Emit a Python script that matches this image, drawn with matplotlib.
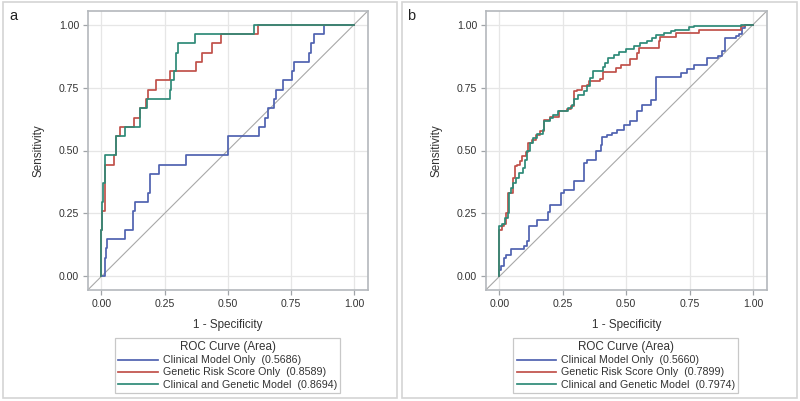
import matplotlib
matplotlib.use("Agg")
import matplotlib.pyplot as plt
from matplotlib.patches import Rectangle

plt.rcParams['font.family'] = ['Liberation Sans', 'DejaVu Sans']

# Panel a: ROC step points (1 - specificity, sensitivity)
a_clin_fpr = [0, 0.013, 0.017, 0.022, 0.095, 0.125, 0.132, 0.184, 0.193, 0.228, 0.333, 0.5, 0.625,
              0.648, 0.658, 0.685, 0.692, 0.718, 0.753, 0.764, 0.82, 0.83, 0.84, 0.88, 1.0]
a_clin_tpr = [0, 0.074, 0.111, 0.148, 0.185, 0.259, 0.296, 0.333, 0.407, 0.444, 0.481, 0.556, 0.593,
              0.630, 0.667, 0.704, 0.741, 0.778, 0.815, 0.852, 0.889, 0.926, 0.963, 1.0, 1.0]
a_grs_fpr = [0, 0, 0.003, 0.013, 0.049, 0.057, 0.072, 0.128, 0.151, 0.178, 0.184, 0.217, 0.27,
             0.375, 0.4, 0.438, 0.474, 0.621, 1.0]
a_grs_tpr = [0, 0.185, 0.259, 0.444, 0.481, 0.556, 0.593, 0.630, 0.667, 0.704, 0.741, 0.778, 0.815,
             0.852, 0.889, 0.926, 0.963, 1.0, 1.0]
a_comb_fpr = [0, 0, 0.003, 0.007, 0.013, 0.057, 0.059, 0.092, 0.151, 0.154, 0.180, 0.270, 0.276,
              0.286, 0.296, 0.303, 0.372, 0.603, 1.0]
a_comb_tpr = [0, 0.185, 0.296, 0.370, 0.481, 0.519, 0.556, 0.593, 0.630, 0.667, 0.704, 0.741, 0.778,
              0.815, 0.889, 0.926, 0.963, 1.0, 1.0]
a_auc = ["0.5686", "0.8589", "0.8694"]

# Panel b
b_clin_fpr = [0, 0, 0.005, 0.018, 0.026, 0.045, 0.095, 0.108, 0.118, 0.147,
              0.193, 0.200, 0.242, 0.255, 0.295, 0.332, 0.335, 0.345, 0.38, 0.40,
              0.405, 0.424, 0.443, 0.463, 0.49, 0.516, 0.543, 0.562, 0.596, 0.619,
              0.714, 0.74, 0.767, 0.82, 0.86, 0.879, 0.888, 0.932, 0.945, 0.958,
              0.969, 1.0]
b_clin_tpr = [0, 0.026, 0.04, 0.073, 0.086, 0.11, 0.12, 0.142, 0.2, 0.225,
              0.254, 0.285, 0.33, 0.342, 0.377, 0.415, 0.45, 0.464, 0.497, 0.52,
              0.552, 0.56, 0.57, 0.583, 0.6, 0.618, 0.658, 0.682, 0.702, 0.793,
              0.808, 0.825, 0.841, 0.868, 0.877, 0.897, 0.947, 0.954, 0.963, 0.987,
              0.997, 1.0]
b_grs_fpr = [0, 0, 0.009, 0.018, 0.026, 0.035, 0.053, 0.062, 0.071, 0.082,
             0.088, 0.105, 0.114, 0.128, 0.145, 0.16, 0.174, 0.2, 0.233, 0.266,
             0.282, 0.295, 0.305, 0.325, 0.345, 0.355, 0.397, 0.41, 0.46, 0.48,
             0.516, 0.543, 0.55, 0.629, 0.635, 0.695, 0.787, 0.952, 0.97, 1.0]
b_grs_tpr = [0, 0.185, 0.2, 0.21, 0.25, 0.33, 0.39, 0.437, 0.444, 0.457,
             0.477, 0.494, 0.53, 0.543, 0.56, 0.579, 0.623, 0.635, 0.656, 0.666,
             0.675, 0.735, 0.742, 0.755, 0.762, 0.775, 0.785, 0.81, 0.827, 0.841,
             0.864, 0.887, 0.907, 0.934, 0.95, 0.967, 0.98, 0.993, 1.0, 1.0]
b_comb_fpr = [0, 0, 0.009, 0.022, 0.032, 0.038, 0.045, 0.055, 0.066, 0.079,
              0.092, 0.1, 0.11, 0.121, 0.134, 0.147, 0.171, 0.176, 0.2, 0.213,
              0.229, 0.272, 0.286, 0.295, 0.308, 0.332, 0.345, 0.358, 0.368, 0.407,
              0.417, 0.43, 0.45, 0.47, 0.5, 0.53, 0.556, 0.582, 0.602, 0.618,
              0.648, 0.675, 0.694, 0.748, 0.767, 0.952, 0.965, 1.0]
b_comb_tpr = [0, 0.2, 0.21, 0.23, 0.25, 0.33, 0.35, 0.37, 0.39, 0.41,
              0.43, 0.464, 0.497, 0.53, 0.55, 0.566, 0.583, 0.616, 0.63, 0.642,
              0.658, 0.669, 0.682, 0.706, 0.722, 0.735, 0.755, 0.788, 0.815, 0.83,
              0.848, 0.868, 0.88, 0.892, 0.905, 0.915, 0.925, 0.935, 0.947, 0.96,
              0.967, 0.973, 0.98, 0.99, 0.993, 0.997, 1.0, 1.0]
b_auc = ["0.5660", "0.7899", "0.7974"]

model_names = ["Clinical Model Only", "Genetic Risk Score Only", "Clinical and Genetic Model"]
ticks = [0.0, 0.25, 0.5, 0.75, 1.0]
tick_labels = ["0.00", "0.25", "0.50", "0.75", "1.00"]

colors = ['#4f62b0', '#c0504a', '#2e8a78']
text_color = '#333333'


def draw_panel(ax, curves, aucs):
    ax.set_xlim(-0.053, 1.055)
    ax.set_ylim(-0.054, 1.054)
    ax.grid(True, color='#e6e6e6', lw=0.9)
    ax.set_axisbelow(True)
    ax.axline((0, 0), slope=1, color='#a8a8a8', lw=0.8, zorder=1)

    for (fpr, tpr), color, name, auc in zip(curves, colors, model_names, aucs):
        ax.step(fpr, tpr, where='post', color=color, lw=1.25,
                label=f"{name}  ({auc})", zorder=3)

    ax.set_xticks(ticks)
    ax.set_xticklabels(tick_labels)
    ax.set_yticks(ticks)
    ax.set_yticklabels(tick_labels)
    ax.tick_params(colors='#a0a4a8', labelcolor=text_color, labelsize=7.6,
                   length=3.5, width=0.9, pad=3)
    for sp in ax.spines.values():
        sp.set_color('#b4b8bc')
        sp.set_linewidth(1.2)

    ax.set_xlabel("1 - Specificity", fontsize=8.4, color=text_color, labelpad=7)
    ax.set_ylabel("Sensitivity", fontsize=8.4, color=text_color, labelpad=10)

    leg = ax.legend(loc='upper center', bbox_to_anchor=(0.498, -0.172),
                    title="ROC Curve (Area)", fontsize=7.7, title_fontsize=8.4,
                    handlelength=3.7, handletextpad=0.45, borderpad=0.3,
                    labelspacing=0.2, fancybox=False, borderaxespad=0,
                    edgecolor='#c8c8c8', framealpha=1)
    leg.get_frame().set_linewidth(0.9)
    for t in leg.get_texts():
        t.set_color(text_color)
    leg.get_title().set_color(text_color)


fig = plt.figure(figsize=(8, 4.01), dpi=100)

# panel frames
fig.add_artist(Rectangle((3 / 800, 3 / 401), 394 / 800, 396 / 401, transform=fig.transFigure,
                         fill=False, ec='#d4d4d4', lw=1.2))
fig.add_artist(Rectangle((402 / 800, 3 / 401), 395 / 800, 396 / 401, transform=fig.transFigure,
                         fill=False, ec='#d4d4d4', lw=1.2))

ax_a = fig.add_axes([88 / 800, 111 / 401, 280 / 800, 279 / 401])
ax_b = fig.add_axes([486 / 800, 111 / 401, 281 / 800, 279 / 401])

draw_panel(ax_a, [(a_clin_fpr, a_clin_tpr), (a_grs_fpr, a_grs_tpr), (a_comb_fpr, a_comb_tpr)], a_auc)
draw_panel(ax_b, [(b_clin_fpr, b_clin_tpr), (b_grs_fpr, b_grs_tpr), (b_comb_fpr, b_comb_tpr)], b_auc)

fig.text(9 / 800, 1 - 16 / 401, "a", fontsize=10.5, color='#222222', va='center', ha='left')
fig.text(407 / 800, 1 - 16 / 401, "b", fontsize=10.5, color='#222222', va='center', ha='left')

fig.savefig('out.png', dpi=100)
